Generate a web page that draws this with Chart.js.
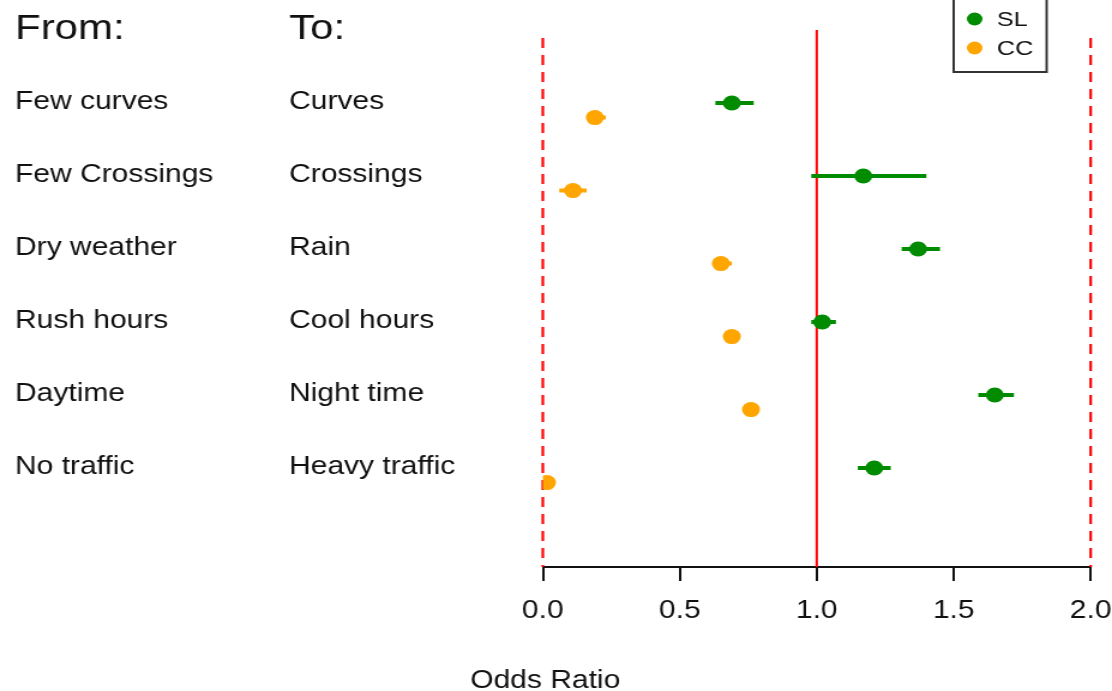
<!DOCTYPE html>
<html>
<head>
<meta charset="utf-8">
<script src="https://cdn.jsdelivr.net/npm/chart.js@4.4.1/dist/chart.umd.min.js"></script>
<style>
  html, body { margin: 0; padding: 0; background: #fff; overflow: hidden; }
  /* el dibujo original esta estirado a lo ancho */
  #contenedor { width: 927px; height: 691px; transform: scaleX(1.19957); transform-origin: 0 0; }
  #grafica { display: block; }
</style>
</head>
<body>
<div id="contenedor"><canvas id="grafica" width="927" height="691" style="width:927px;height:691px"></canvas></div>
<script>
// datos del grafico
var desde = ['Few curves', 'Few Crossings', 'Dry weather', 'Rush hours', 'Daytime', 'No traffic']
var hacia = ['Curves', 'Crossings', 'Rain', 'Cool hours', 'Night time', 'Heavy traffic']

var sl_or = [0.69, 1.17, 1.37, 1.02, 1.65, 1.21]
var sl_bajo = [0.63, 0.98, 1.31, 0.98, 1.59, 1.15]
var sl_alto = [0.77, 1.40, 1.45, 1.07, 1.72, 1.27]

var cc_or = [0.19, 0.11, 0.65, 0.69, 0.76, 0.015]
var cc_bajo = [0.16, 0.06, 0.62, 0.67, 0.74, 0.005]
var cc_alto = [0.23, 0.16, 0.69, 0.71, 0.78, 0.025]

var ticks_x = [0, 0.5, 1, 1.5, 2]

var verde = '#008B00'
var naranja = '#FFA500'
var fuente = '"Liberation Sans", Arial, Helvetica, sans-serif'

function puntos(valores, desplaza) {
    return valores.map(function (v, i) { return { x: v, y: i + desplaza } })
}
function bigotes(bajo, alto, desplaza) {
    var d = []
    bajo.forEach(function (b, i) {
        d.push({ x: b, y: i + desplaza })
        d.push({ x: alto[i], y: i + desplaza })
        d.push({ x: NaN, y: NaN })
    })
    return d
}

var lineas_ref = {
    id: 'lineas_ref',
    beforeDatasetsDraw: function (chart) {
        var ctx = chart.ctx, x = chart.scales.x, a = chart.chartArea
        ctx.save()
        ctx.strokeStyle = '#FF0000'
        ctx.lineWidth = 2.2
        ctx.setLineDash([10, 7])
        ;[0, 2].forEach(function (v) {
            var px = x.getPixelForValue(v)
            ctx.beginPath(); ctx.moveTo(px, a.top + 8); ctx.lineTo(px, a.bottom); ctx.stroke()
        })
        ctx.setLineDash([])
        ctx.lineWidth = 2
        var p1 = x.getPixelForValue(1)
        ctx.beginPath(); ctx.moveTo(p1, a.top); ctx.lineTo(p1, a.bottom); ctx.stroke()
        ctx.restore()
    }
}

var textos = {
    id: 'textos',
    afterDraw: function (chart) {
        var ctx = chart.ctx, y = chart.scales.y
        ctx.save()
        ctx.fillStyle = '#111'
        ctx.textBaseline = 'middle'
        ctx.textAlign = 'left'
        ctx.font = '35px ' + fuente
        ctx.fillText('From:', 12.5, y.getPixelForValue(-1) - 1)
        ctx.fillText('To:', 241, y.getPixelForValue(-1) - 1)
        ctx.font = '25px ' + fuente
        desde.forEach(function (t, i) {
            ctx.fillText(t, 12.5, y.getPixelForValue(i) - 1)
            ctx.fillText(hacia[i], 241, y.getPixelForValue(i) - 1)
        })
        ctx.fillText('Odds Ratio', 392, 681)

        // leyenda
        ctx.strokeStyle = '#333'
        ctx.lineWidth = 2
        ctx.strokeRect(795, -5, 77.5, 77)
        ctx.font = '21px ' + fuente
        ;[['SL', verde, 19], ['CC', naranja, 48]].forEach(function (l) {
            ctx.fillStyle = l[1]
            ctx.beginPath(); ctx.arc(812.5, l[2], 6.5, 0, Math.PI * 2); ctx.fill()
            ctx.fillStyle = '#111'
            ctx.fillText(l[0], 831, l[2] + 1)
        })
        ctx.restore()
    }
}

var carga = {
    type: 'scatter',
    data: {
        datasets: [
            { label: 'SL', data: puntos(sl_or, 0), backgroundColor: verde, borderColor: verde, pointRadius: 7.5, pointBorderWidth: 0, order: 0 },
            { label: 'CC', data: puntos(cc_or, 0.2), backgroundColor: naranja, borderColor: naranja, pointRadius: 7.5, pointBorderWidth: 0, order: 0 },
            { label: 'SL ic', data: bigotes(sl_bajo, sl_alto, 0), showLine: true, spanGaps: false, borderColor: verde, borderWidth: 4, pointRadius: 0, order: 1 },
            { label: 'CC ic', data: bigotes(cc_bajo, cc_alto, 0.2), showLine: true, spanGaps: false, borderColor: naranja, borderWidth: 4, pointRadius: 0, order: 1 }
        ]
    },
    options: {
        responsive: false,
        devicePixelRatio: 1,
        animation: false,
        layout: { padding: { left: 452.5, right: 17.8, top: 30, bottom: 0 } },
        plugins: { legend: { display: false }, tooltip: { enabled: false } },
        scales: {
            x: {
                type: 'linear', min: 0, max: 2,
                afterBuildTicks: function (s) { s.ticks = ticks_x.map(function (v) { return { value: v } }) },
                afterFit: function (s) { s.height = 124; s.paddingLeft = 0; s.paddingRight = 0 },
                border: { display: true, color: '#111', width: 2 },
                grid: { drawOnChartArea: false, drawTicks: true, tickLength: 14, color: '#111', lineWidth: 2 },
                ticks: {
                    padding: 15, color: '#111', font: { family: fuente, size: 25 },
                    callback: function (v) { return v.toFixed(1) }
                }
            },
            y: { type: 'linear', display: false, reverse: true, min: -1, max: 6.356 }
        }
    },
    plugins: [lineas_ref, textos]
}

var grafica = new Chart(document.getElementById('grafica'), carga)
</script>
</body>
</html>
